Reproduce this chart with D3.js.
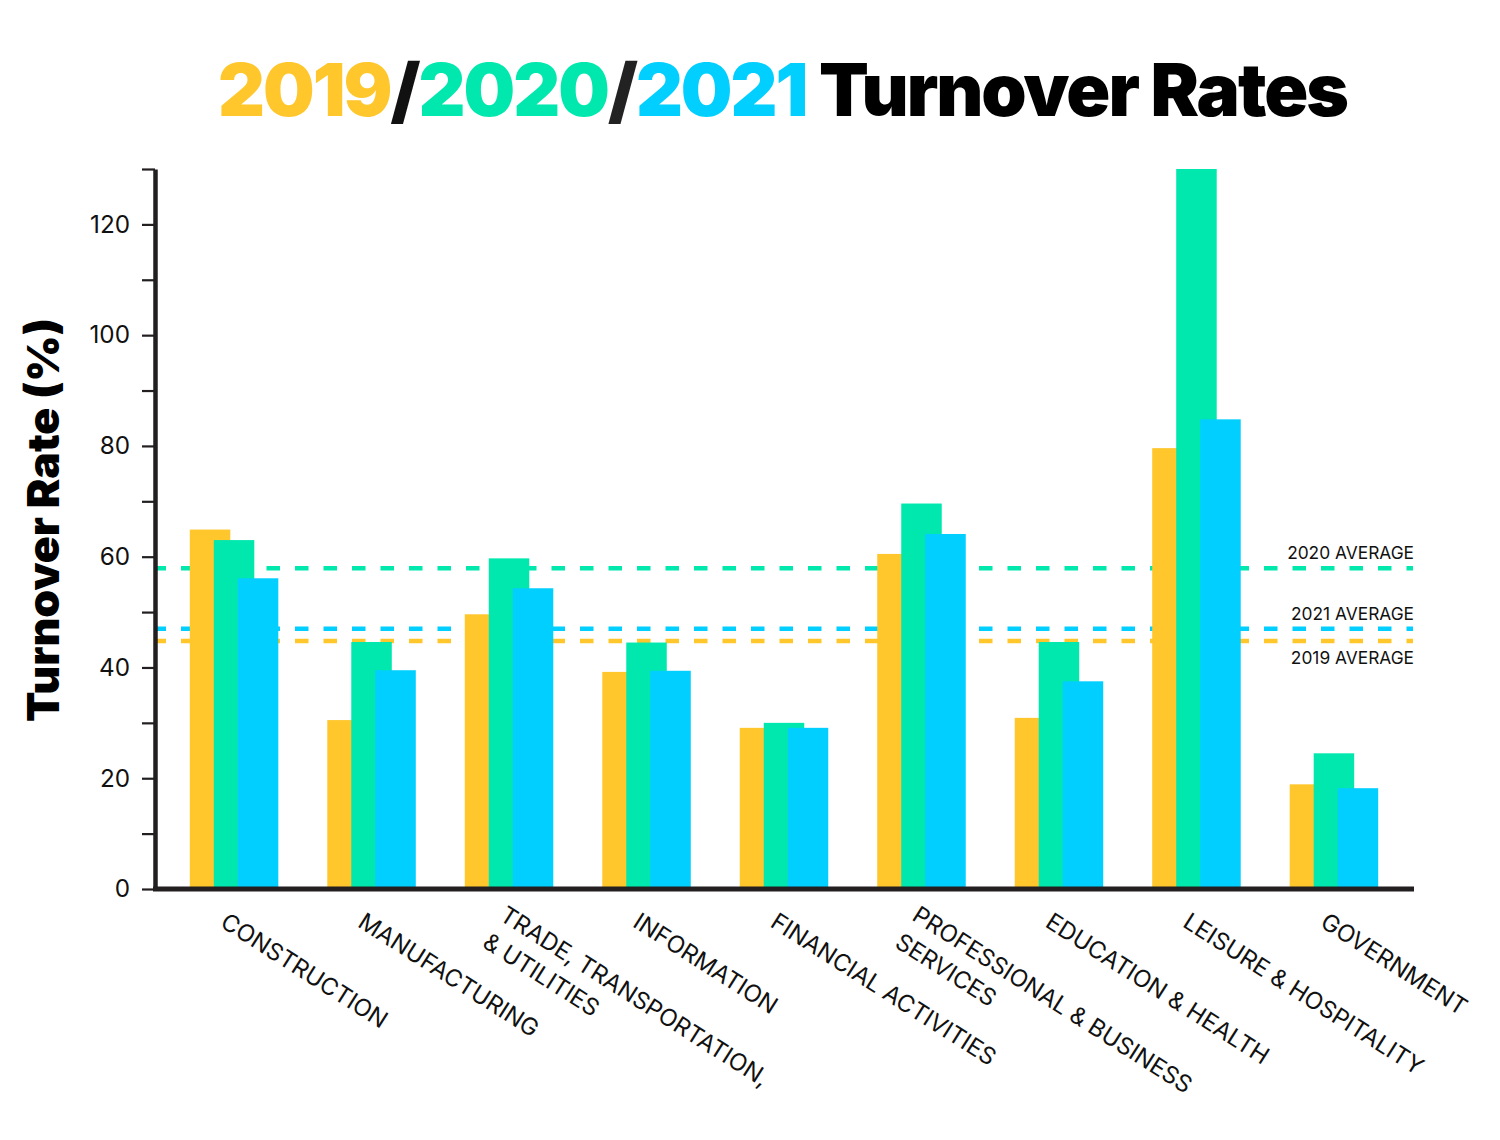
<!DOCTYPE html>
<html>
<head>
<meta charset="utf-8">
<script src="https://cdn.jsdelivr.net/npm/d3@7"></script>
<style>
  body { margin: 0; background: #fff; }
  svg { display: block; }
</style>
</head>
<body>
<div id="chart"></div>
<script>
// data
var categories = ["CONSTRUCTION", "MANUFACTURING", "TRADE, TRANSPORTATION,\n& UTILITIES",
  "INFORMATION", "FINANCIAL ACTIVITIES", "PROFESSIONAL & BUSINESS\nSERVICES",
  "EDUCATION & HEALTH", "LEISURE & HOSPITALITY", "GOVERNMENT"];
var years = ["2019", "2020", "2021"];
var rate2019 = [64.9, 30.5, 49.6, 39.2, 29.1, 60.5, 30.9, 79.6, 18.9];
var rate2020 = [63.0, 44.6, 59.7, 44.5, 30.0, 69.6, 44.6, 130.0, 24.5];
var rate2021 = [56.1, 39.5, 54.3, 39.4, 29.1, 64.1, 37.5, 84.8, 18.2];
var averages = [44.8, 57.9, 47.0];
var yTickValues = [0, 10, 20, 30, 40, 50, 60, 70, 80, 90, 100, 110, 120, 130];
var yTickLabels = [0, 20, 40, 60, 80, 100, 120];
var yearColors = ["#ffc72c", "#00e8ae", "#00cfff"];

var series = [rate2019, rate2020, rate2021];

// set the dimensions and margins of the graph
var W = 1500, H = 1140;
var margin = {top: 169, right: 87, bottom: 251, left: 155},
    width = W - margin.left - margin.right,
    height = H - margin.top - margin.bottom;

var svg0 = d3.select("#chart")
  .append("svg")
    .attr("width", W)
    .attr("height", H);

var svg = svg0.append("g")
    .attr("transform", "translate(" + margin.left + "," + margin.top + ")");

var ink = "#231f20";
var lightFont = "Inter, 'Open Sans', sans-serif";
var heavyFont = "Inter, 'DejaVu Sans', sans-serif";

// shrink/grow a text to a target width
function fitWidth(sel, target) {
  var fs = parseFloat(sel.attr("font-size"));
  var w = sel.node().getComputedTextLength();
  sel.attr("font-size", fs * target / w);
  return fs * target / w;
}

// scales
var x = d3.scaleBand()
  .domain(categories)
  .range([0, width])
  .paddingInner(0)
  .paddingOuter(0.075);

var sub = d3.scalePoint()
  .domain(years)
  .range([-24, 24]);

var barW = 40.5;

var y = d3.scaleLinear()
  .domain([0, 130])
  .range([height, 0]);

// average lines (behind bars)
years.forEach(function(yr, i) {
  svg.append("line")
    .attr("x1", 0)
    .attr("x2", width)
    .attr("y1", y(averages[i]))
    .attr("y2", y(averages[i]))
    .attr("stroke", yearColors[i])
    .attr("stroke-width", 4.5)
    .attr("stroke-dasharray", "13.5 15")
    .attr("stroke-dashoffset", 2.5);
});

// bars
years.forEach(function(yr, i) {
  svg.selectAll(".bar" + yr)
    .data(categories)
    .enter()
    .append("rect")
      .attr("class", "bar" + yr)
      .attr("x", function(d) { return x(d) + x.bandwidth() / 2 + sub(yr) - barW / 2; })
      .attr("width", barW)
      .attr("y", function(d, j) { return y(Math.min(130, series[i][j])); })
      .attr("height", function(d, j) { return height - y(Math.min(130, series[i][j])); })
      .attr("fill", yearColors[i]);
});

// average labels
var avgLabels = [
  {i: 1, dy: -9},
  {i: 2, dy: -9},
  {i: 0, dy: 23}
];
var avgTexts = avgLabels.map(function(a) {
  return svg.append("text")
    .attr("x", width + 1)
    .attr("y", y(averages[a.i]) + a.dy)
    .attr("text-anchor", "end")
    .attr("font-family", lightFont)
    .attr("font-size", 17)
    .attr("fill", "#111")
    .text(years[a.i] + " AVERAGE");
});
var avgFs = fitWidth(avgTexts[0], 127);
avgTexts.forEach(function(t) { t.attr("font-size", avgFs); });

// Y axis
var yAxis = svg.append("g")
  .call(d3.axisLeft(y)
    .tickValues(yTickValues)
    .tickSize(13)
    .tickSizeOuter(0)
    .tickPadding(12)
    .tickFormat(function(d) { return yTickLabels.indexOf(d) >= 0 ? d : ""; }));
yAxis.select(".domain").attr("stroke", ink).attr("stroke-width", 4.5);
yAxis.selectAll(".tick line").attr("stroke", ink).attr("stroke-width", 2.2);
yAxis.selectAll(".tick text")
  .attr("font-family", lightFont)
  .attr("font-size", 21)
  .attr("fill", "#111");
var t120 = yAxis.selectAll(".tick text").filter(function(d) { return d === 120; });
var tickFs = fitWidth(t120, 40);
yAxis.selectAll(".tick text").attr("font-size", tickFs);

// X axis
var xAxis = svg.append("g")
  .attr("transform", "translate(0," + height + ")")
  .call(d3.axisBottom(x).tickSize(0).tickSizeOuter(0).tickFormat(""));
xAxis.select(".domain").attr("stroke", ink).attr("stroke-width", 5);
xAxis.selectAll(".tick").remove();
xAxis.select(".domain").attr("d", "M-2,0H" + (width + 1));

// category labels, rotated
var angle = 32.5;
var labelG = svg.selectAll(".xlab")
  .data(categories)
  .enter()
  .append("text")
    .attr("class", "xlab")
    .attr("transform", function(d) {
      return "translate(" + (x(d) + x.bandwidth() / 2 - 15) + "," + (height + 37) + ")rotate(" + angle + ")";
    })
    .attr("font-family", lightFont)
    .attr("font-size", 20)
    .attr("fill", "#111");

labelG.each(function(d) {
  var lines = d.split("\n");
  var t = d3.select(this);
  lines.forEach(function(l, k) {
    t.append("tspan")
      .attr("x", 0)
      .attr("y", lines.length > 1 ? -8 + k * 32 : 0)
      .text(l);
  });
});
var constr = labelG.filter(function(d) { return d === "CONSTRUCTION"; });
var labFs = fitWidth(constr, 192);
labelG.attr("font-size", labFs);

// Y axis title
var yTitle = svg0.append("text")
  .attr("transform", "translate(59,520)rotate(-90)")
  .attr("text-anchor", "middle")
  .attr("font-family", heavyFont)
  .attr("font-weight", 900)
  .attr("font-size", 44)
  .attr("fill", "#000")
  .text("Turnover Rate (%)");
fitWidth(yTitle, 404);

// Title
var title = svg0.append("text")
  .attr("x", 218)
  .attr("y", 116)
  .attr("font-family", heavyFont)
  .attr("font-weight", 900)
  .attr("font-size", 84)
  .attr("letter-spacing", -2);
var parts = [
  {t: "2019", c: yearColors[0]},
  {t: "/", c: "#111"},
  {t: "2020", c: yearColors[1]},
  {t: "/", c: "#222"},
  {t: "2021", c: yearColors[2]},
  {t: " Turnover Rates", c: "#000"}
];
parts.forEach(function(p) {
  title.append("tspan").attr("fill", p.c).text(p.t);
});
fitWidth(title, 1137);
</script>
</body>
</html>
